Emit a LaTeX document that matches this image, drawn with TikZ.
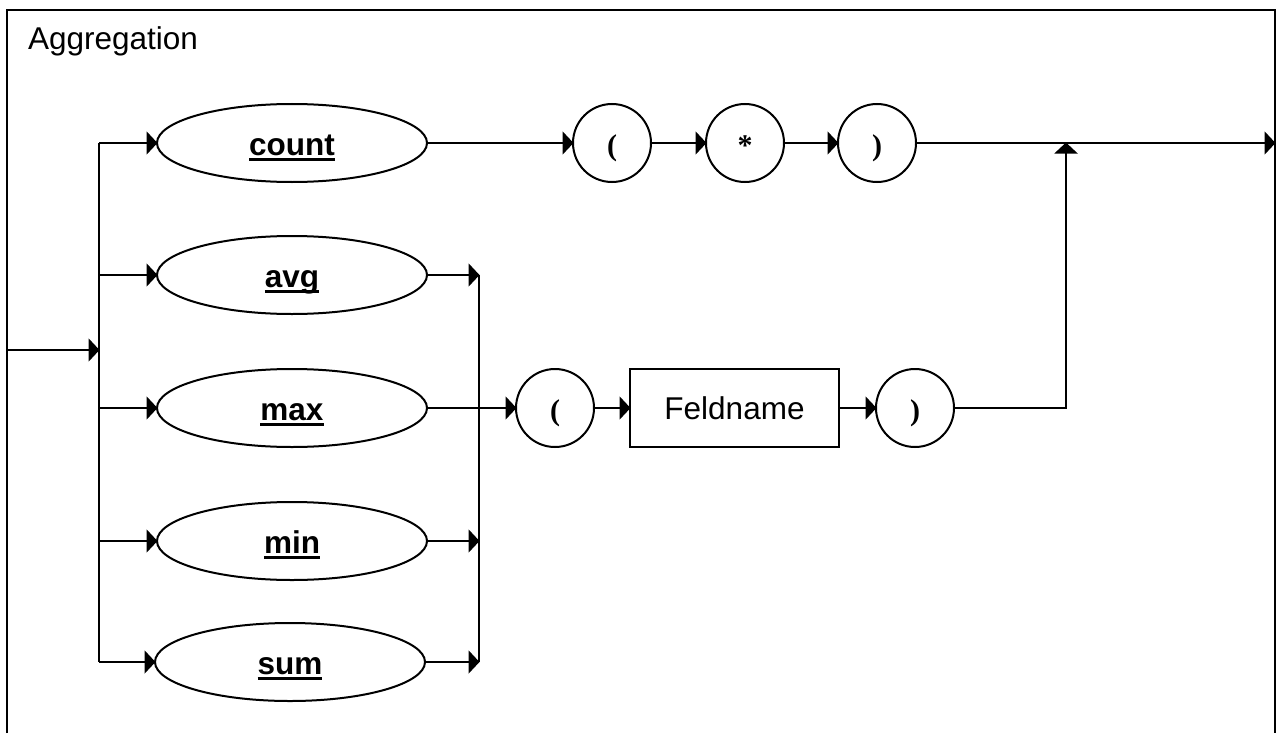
\documentclass[tikz,border=0pt]{standalone}
\usepackage{fontspec}
\setmainfont{Liberation Sans}
\newfontfamily\serifb{Liberation Serif}[BoldFont={Liberation Serif Bold}]
\usetikzlibrary{shapes.geometric,arrows.meta}
\newcommand{\ulab}[1]{\setbox0=\hbox{\bfseries #1}\rlap{\rule[-6pt]{\wd0}{3pt}}\box0}
\begin{document}
\begin{tikzpicture}[x=1pt,y=-1pt,
  every node/.style={inner sep=0pt,outer sep=0pt},
  line/.style={line width=2.2pt},
  arr/.style={line width=2.2pt,-{Triangle[length=11pt,width=23pt]},shorten >=-0.5pt},
  kw/.style={ellipse,draw,line width=2pt,minimum width=270pt,minimum height=78pt,
    font=\fontsize{31.5}{36}\selectfont,text height=24pt,text depth=0pt},
  term/.style={circle,draw,line width=2pt,minimum size=78pt,
    font=\serifb\bfseries\fontsize{30}{34}\selectfont,text height=24pt,text depth=0pt},
  nterm/.style={rectangle,draw,line width=2pt,minimum width=209pt,minimum height=78pt,
    font=\fontsize{31.5}{36}\selectfont}]
\useasboundingbox (0,0) rectangle (1281,733);
% frame
\draw[line width=2.2pt] (7,733) -- (7,10) -- (1275,10) -- (1275,733);
\node[anchor=base west,font=\fontsize{31.5}{36}\selectfont] (title) at (28,50) {Aggregation};
% keyword ellipses
\node[kw] (count) at (292,143) {\ulab{count}};
\node[kw] (avg) at (292,275) {\ulab{avg}};
\node[kw] (max) at (292,408) {\ulab{max}};
\node[kw] (min) at (292,541) {\ulab{min}};
\node[kw] (sum) at (290,662) {\ulab{sum}};
% terminals count row
\node[term] (lp1) at (612,143) {(};
\node[term] (star) at (745,143) {*};
\node[term] (rp1) at (877,143) {)};
% terminals max row
\node[term] (lp2) at (555,408) {(};
\node[nterm] (feld) at (734.5,408) {Feldname};
\node[term] (rp2) at (915,408) {)};
% coordinates
\coordinate (in) at (7,350);
\coordinate (lb) at (99,350);
\coordinate (lbtop) at (99,143);
\coordinate (lbbot) at (99,662);
\coordinate (rbtop) at (479,275);
\coordinate (rbbot) at (479,662);
\coordinate (join) at (1066,143);
\coordinate (out) at (1275,143);
% left bus
\draw[arr] (in) -- (lb);
\draw[line] (lbtop) -- (lbbot);
\draw[arr] (lbtop) -- (count.west);
\draw[arr] (99,275) -- (avg.west);
\draw[arr] (99,408) -- (max.west);
\draw[arr] (99,541) -- (min.west);
\draw[arr] (lbbot) -- (sum.west);
% right bus
\draw[line] (rbtop) -- (rbbot);
\draw[arr] (avg.east) -- (rbtop);
\draw[arr] (min.east) -- (479,541);
\draw[arr] (sum.east) -- (rbbot);
% count row
\draw[arr] (count.east) -- (lp1.west);
\draw[arr] (lp1.east) -- (star.west);
\draw[arr] (star.east) -- (rp1.west);
\draw[arr] (rp1.east) -- (out);
% max row
\draw[arr] (max.east) -- (lp2.west);
\draw[arr] (lp2.east) -- (feld.west);
\draw[arr] (feld.east) -- (rp2.west);
\draw[arr] (rp2.east) -- (1066,408) -- (join);
\end{tikzpicture}
\end{document}
